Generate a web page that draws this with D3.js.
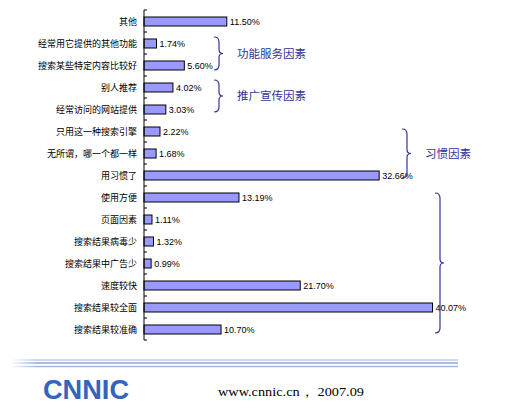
<!DOCTYPE html>
<html>
<head>
<meta charset="utf-8">
<script src="https://cdn.jsdelivr.net/npm/d3@7"></script>
<style>
  body { margin: 0; background: #fff; }
  svg { display: block; }
</style>
</head>
<body>
<script>
// chart data
var categories = [
  "其他", "经常用它提供的其他功能", "搜索某些特定内容比较好", "别人推荐",
  "经常访问的网站提供", "只用这一种搜索引擎", "无所谓，哪一个都一样", "用习惯了",
  "使用方便", "页面因素", "搜索结果病毒少", "搜索结果中广告少",
  "速度较快", "搜索结果较全面", "搜索结果较准确"
];
var values = [11.50, 1.74, 5.60, 4.02, 3.03, 2.22, 1.68, 32.66,
              13.19, 1.11, 1.32, 0.99, 21.70, 40.07, 10.70];
// brace groups: first and last category, label
var groupFrom = ["经常用它提供的其他功能", "别人推荐", "只用这一种搜索引擎", "使用方便"];
var groupTo = ["搜索某些特定内容比较好", "经常访问的网站提供", "用习惯了", "搜索结果较准确"];
var groupLabels = ["功能服务因素", "推广宣传因素", "习惯因素", ""];
var footerText = "www.cnnic.cn， 2007.09";

var width = 531, height = 419;

var svg = d3.select("body").append("svg")
    .attr("width", width)
    .attr("height", height);

var x = d3.scaleLinear().domain([0, 10]).range([144, 216]);
var y = d3.scaleBand().domain(categories).range([10, 340]);
var barH = 9;

// bars
svg.selectAll(".bar")
  .data(values)
  .enter().append("rect")
    .attr("class", "bar")
    .attr("x", x(0))
    .attr("y", function(d, i) { return y(categories[i]) + (y.bandwidth() - barH) / 2 + 0.5; })
    .attr("width", function(d) { return x(d) - x(0); })
    .attr("height", barH)
    .attr("fill", "#9999ff")
    .attr("stroke", "#000")
    .attr("stroke-width", 1);

// value labels
svg.selectAll(".val")
  .data(values)
  .enter().append("text")
    .attr("class", "val")
    .attr("x", function(d) { return x(d) + 3; })
    .attr("y", function(d, i) { return y(categories[i]) + y.bandwidth() / 2 + 0.5; })
    .attr("dy", "0.35em")
    .attr("font-family", "Liberation Sans, sans-serif")
    .attr("font-size", 9)
    .attr("fill", "#000")
    .text(function(d) { return d.toFixed(2) + "%"; });

// axis line and inner ticks
svg.append("line")
    .attr("x1", x(0)).attr("x2", x(0))
    .attr("y1", 10).attr("y2", 340)
    .attr("stroke", "#000");

var bounds = categories.map(function(c) { return y(c); }).concat([340]);
svg.selectAll(".tick")
  .data(bounds)
  .enter().append("line")
    .attr("x1", x(0)).attr("x2", x(0) + 3)
    .attr("y1", function(d) { return d; })
    .attr("y2", function(d) { return d; })
    .attr("stroke", "#000");

// category labels
svg.selectAll(".cat")
  .data(categories)
  .enter().append("text")
    .attr("x", 137)
    .attr("y", function(d) { return y(d) + y.bandwidth() / 2 + 0.5; })
    .attr("dy", "0.35em")
    .attr("text-anchor", "end")
    .attr("font-family", "Noto Sans CJK SC, sans-serif")
    .attr("font-size", 9)
    .attr("fill", "#000")
    .text(function(d) { return d; });

// braces
var braceColor = "#333399";
function bracePath(x0, y0, y1) {
  var ym = (y0 + y1) / 2, s = 5, t = 4;
  return "M" + x0 + "," + y0 +
    " Q" + (x0 + s) + "," + y0 + " " + (x0 + s) + "," + (y0 + 5) +
    " L" + (x0 + s) + "," + (ym - 4) +
    " Q" + (x0 + s) + "," + ym + " " + (x0 + s + t) + "," + ym +
    " Q" + (x0 + s) + "," + ym + " " + (x0 + s) + "," + (ym + 4) +
    " L" + (x0 + s) + "," + (y1 - 5) +
    " Q" + (x0 + s) + "," + y1 + " " + x0 + "," + y1;
}
var braceX = [214, 214, 402, 435];
var braceTop = [5, 4, 9, 7];
var braceBottom = [16, 14, 14, 15];
groupLabels.forEach(function(label, i) {
  var y0 = y(groupFrom[i]) + braceTop[i], y1 = y(groupTo[i]) + braceBottom[i];
  svg.append("path")
      .attr("d", bracePath(braceX[i], y0, y1))
      .attr("fill", "none")
      .attr("stroke", braceColor)
      .attr("stroke-width", 1.2);
  if (label) {
    svg.append("text")
        .attr("x", braceX[i] + 23)
        .attr("y", (y0 + y1) / 2)
        .attr("dy", "0.35em")
        .attr("font-family", "Noto Sans CJK SC, sans-serif")
        .attr("font-size", 11.5)
        .attr("fill", braceColor)
        .text(label);
  }
});

// footer rules
var grad = svg.append("defs").append("linearGradient")
    .attr("id", "rule").attr("x1", "0%").attr("x2", "100%");
grad.append("stop").attr("offset", "0%").attr("stop-color", "#fff");
grad.append("stop").attr("offset", "6%").attr("stop-color", "#8ea6de");
grad.append("stop").attr("offset", "100%").attr("stop-color", "#8ea6de");
[[360, 1.5, 0.6], [363, 1.5, 1], [366.5, 1.5, 0.8]].forEach(function(r) {
  svg.append("rect")
      .attr("x", 10).attr("y", r[0] - r[1] / 2)
      .attr("width", 448).attr("height", r[1])
      .attr("fill", "url(#rule)")
      .attr("opacity", r[2]);
});

// logo
svg.append("text")
    .attr("x", 43).attr("y", 399)
    .attr("font-family", "Liberation Sans, sans-serif")
    .attr("font-weight", "bold")
    .attr("font-size", 27)
    .attr("textLength", 86)
    .attr("lengthAdjust", "spacingAndGlyphs")
    .attr("fill", "#3464bc")
    .text("CNNIC");

svg.append("text")
    .attr("x", 218).attr("y", 396)
    .attr("font-family", "Liberation Serif, serif")
    .attr("font-size", 13)
    .attr("textLength", 146)
    .attr("lengthAdjust", "spacingAndGlyphs")
    .attr("fill", "#000")
    .text(footerText);
</script>
</body>
</html>
